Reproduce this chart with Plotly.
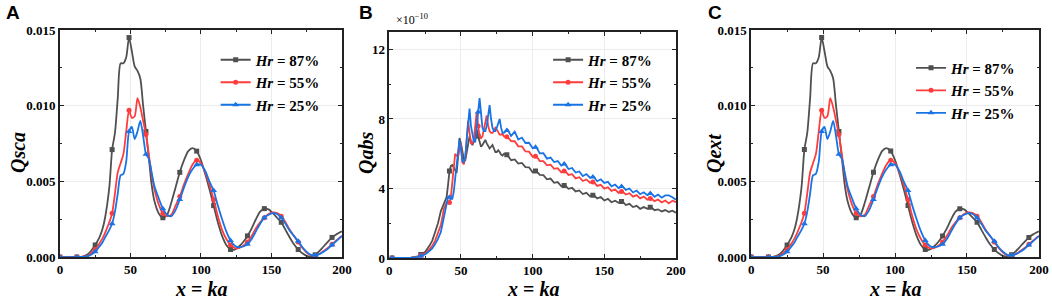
import numpy as np
import plotly.graph_objects as go

# ---------------- Panel A / C data (Qsca, Qext) in units of 1e-3 ----------------
xa = [0, 5, 10, 12, 15, 18, 20, 22, 25, 28, 30, 32, 35, 37, 39, 41, 43, 45, 47, 49, 51, 53, 55, 57, 59,
      61, 63, 65, 67, 70, 73, 76, 79, 82, 85, 88, 91, 94, 97, 100, 103, 106, 109, 112, 115, 118, 121,
      124, 127, 130, 133, 136, 139, 142, 145, 148, 151, 154, 157, 160, 163, 166, 169, 172, 175, 178,
      181, 184, 187, 190, 193, 196, 200]
qsca_87 = [0, 0, 0, 0, 0.02, 0.1, 0.2, 0.4, 0.8, 1.3, 1.8, 2.6, 4.6, 7.1, 8.2, 10.5, 12.8, 12.8, 13.2, 14.5,
           13.6, 12.6, 12.3, 11.8, 10.0, 8.3, 6.6, 4.8, 3.7, 2.9, 2.6, 2.8, 3.6, 4.6, 5.6, 6.4, 7.0, 7.2,
           7.0, 6.4, 5.5, 4.5, 3.4, 2.3, 1.4, 0.8, 0.5, 0.5, 0.7, 1.0, 1.4, 1.9, 2.5, 3.0, 3.2, 3.15, 2.9,
           2.6, 2.3, 1.8, 1.3, 0.85, 0.5, 0.25, 0.08, 0.03, 0.15, 0.4, 0.7, 1.0, 1.3, 1.5, 1.7]
qsca_55 = [0, 0, 0, 0, 0.01, 0.05, 0.1, 0.25, 0.5, 0.9, 1.2, 1.6, 2.3, 2.9, 4.2, 5.6, 6.2, 6.8, 8.3, 9.7,
           9.2, 9.3, 10.5, 9.9, 9.0, 8.1, 6.8, 5.5, 4.5, 3.5, 2.9, 2.7, 2.8, 3.4, 4.0, 4.8, 5.5, 6.1, 6.4,
           6.2, 5.6, 4.8, 3.8, 2.7, 1.8, 1.2, 0.8, 0.6, 0.6, 0.75, 1.0, 1.4, 1.9, 2.3, 2.6, 2.85, 2.95,
           2.9, 2.7, 2.3, 1.8, 1.4, 1.0, 0.6, 0.3, 0.12, 0.08, 0.2, 0.4, 0.6, 0.85, 1.1, 1.4]
qsca_25 = [0, 0, 0, 0, 0.01, 0.03, 0.07, 0.15, 0.35, 0.7, 0.95, 1.3, 1.8, 2.2, 3.0, 4.2, 5.4, 5.5, 6.3, 8.3,
           8.6, 7.8, 8.3, 9.0, 8.0, 6.8, 6.5, 5.6, 4.7, 3.9, 3.2, 2.8, 2.7, 3.1, 3.8, 4.6, 5.3, 5.8, 6.1,
           6.1, 5.7, 5.0, 4.4, 3.4, 2.5, 1.7, 1.1, 0.75, 0.65, 0.7, 0.85, 1.2, 1.7, 2.2, 2.6, 2.8, 2.9,
           2.85, 2.6, 2.2, 1.75, 1.4, 1.05, 0.65, 0.35, 0.15, 0.12, 0.2, 0.35, 0.55, 0.8, 1.05, 1.4]
qext_87, qext_55, qext_25 = qsca_87, qsca_55, qsca_25
marker_xa = [0, 12, 25, 37, 49, 61, 73, 85, 97, 109, 121, 133, 145, 157, 169, 181, 193]

# ---------------- Panel B data (Qabs) in units of 1e-10 ----------------
xb = ([0, 2, 5, 10, 15, 20, 22, 25, 28, 30, 32, 34] + list(range(36, 81))
      + [82.5 + 2.5 * i for i in range(48)])
qabs_87 = ([0, 0, 0, 0, 0.02, 0.1, 0.2, 0.35, 0.7, 1.0, 1.5, 2.0,
            2.7, 2.9, 3.1, 3.2, 3.5, 4.2, 5.0, 5.3, 5.35, 5.2, 5.0, 4.9, 5.8, 6.9, 6.6, 6.0, 5.7, 5.6,
            6.0, 6.6, 7.0, 6.7, 6.5, 6.7, 7.1, 7.4, 7.0, 6.6, 6.4, 6.5, 6.7, 6.8, 6.6, 6.4, 6.3, 6.4,
            6.5, 6.3, 6.1, 6.1, 6.2, 6.1, 5.95, 5.9, 6.0]
           + [5.92, 5.63, 5.67, 5.43, 5.47, 5.23, 5.22, 4.93, 5.02, 4.78, 4.77, 4.53, 4.57, 4.33, 4.37,
              4.13, 4.19, 3.98, 4.04, 3.83, 3.89, 3.68, 3.75, 3.55, 3.63, 3.43, 3.51, 3.31, 3.4, 3.21,
              3.3, 3.18, 3.27, 3.05, 3.12, 2.93, 3.0, 2.83, 2.93, 2.83, 2.94, 2.75, 2.8, 2.68, 2.76,
              2.65, 2.72, 2.6])
qabs_55 = ([0, 0, 0, 0, 0.01, 0.08, 0.15, 0.25, 0.5, 0.7, 1.0, 1.4,
            1.9, 2.3, 2.8, 3.0, 3.2, 3.2, 3.2, 3.5, 4.2, 5.2, 6.0, 5.9, 5.8, 6.3, 6.6, 5.5, 5.4, 5.7,
            6.8, 7.9, 7.2, 6.6, 6.6, 6.8, 7.6, 8.4, 7.6, 7.0, 6.9, 7.0, 7.4, 7.9, 8.2, 7.6, 7.3, 7.2,
            7.2, 7.3, 7.5, 7.4, 7.2, 7.1, 7.1, 7.15, 7.0]
           + [6.97, 6.73, 6.72, 6.43, 6.42, 6.13, 6.12, 5.83, 5.87, 5.58, 5.57, 5.33, 5.37, 5.13, 5.17,
              4.93, 5.02, 4.78, 4.82, 4.58, 4.65, 4.43, 4.52, 4.33, 4.39, 4.15, 4.21, 3.99, 4.07, 3.86,
              3.94, 3.75, 3.85, 3.65, 3.73, 3.53, 3.62, 3.43, 3.53, 3.35, 3.45, 3.27, 3.37, 3.2, 3.31,
              3.14, 3.3, 3.22])
qabs_25 = ([0, 0, 0, 0, 0.01, 0.06, 0.12, 0.2, 0.4, 0.55, 0.8, 1.1,
            1.5, 1.9, 2.4, 2.9, 3.3, 3.5, 3.5, 3.4, 3.4, 3.8, 4.6, 5.4, 6.1, 6.8, 6.3, 5.6, 5.5, 5.8,
            6.8, 8.0, 8.6, 7.6, 7.0, 6.7, 6.7, 7.4, 8.4, 9.2, 8.2, 7.5, 7.3, 7.3, 7.6, 8.2, 8.8, 8.0,
            7.5, 7.3, 7.3, 7.5, 7.8, 8.0, 7.5, 7.2, 7.2]
           + [7.38, 7.03, 7.27, 6.82, 6.93, 6.62, 6.63, 6.32, 6.38, 6.02, 6.03, 5.72, 5.78, 5.52, 5.58,
              5.32, 5.43, 5.12, 5.18, 4.92, 4.98, 4.72, 4.83, 4.62, 4.68, 4.42, 4.53, 4.32, 4.38, 4.12,
              4.23, 4.02, 4.13, 3.92, 4.0, 3.77, 3.88, 3.67, 3.78, 3.62, 3.73, 3.52, 3.65, 3.47, 3.6,
              3.6, 3.5, 3.35])
marker_xb = [2, 22, 42, 62, 82, 102, 122, 142, 162, 182]

series_names = ["<b><i>Hr</i> = 87%</b>", "<b><i>Hr</i> = 55%</b>", "<b><i>Hr</i> = 25%</b>"]
colors = ["#505050", "#ff3c3c", "#1874e6"]
symbols = ["square", "circle", "triangle-up"]
msizes = [5, 5, 6]

for arr in (qsca_87, qsca_55, qsca_25):
    assert len(arr) == len(xa)
for arr in (qabs_87, qabs_55, qabs_25):
    assert len(arr) == len(xb)

fig = go.Figure()

panels = [
    ("x", "y", "legend", xa, [np.array(qsca_87) * 1e-3, np.array(qsca_55) * 1e-3, np.array(qsca_25) * 1e-3], marker_xa, True),
    ("x2", "y2", "legend2", xb, [np.array(qabs_87), np.array(qabs_55), np.array(qabs_25)], marker_xb, False),
    ("x3", "y3", "legend3", xa, [np.array(qext_87) * 1e-3, np.array(qext_55) * 1e-3, np.array(qext_25) * 1e-3], marker_xa, True),
]

for xr, yr, lg, xs, ys, mx, smooth in panels:
    for i in range(3):
        line = dict(color=colors[i], width=1.8)
        if smooth:
            line.update(shape="spline", smoothing=0.7)
        fig.add_trace(go.Scatter(x=xs, y=ys[i], mode="lines", line=line, xaxis=xr, yaxis=yr,
                                 showlegend=False, hoverinfo="skip"))
        fig.add_trace(go.Scatter(x=mx, y=np.interp(mx, xs, ys[i]), mode="markers",
                                 marker=dict(symbol=symbols[i], size=msizes[i], color=colors[i]),
                                 xaxis=xr, yaxis=yr, showlegend=False, hoverinfo="skip"))
        fig.add_trace(go.Scatter(x=[None], y=[None], mode="lines+markers", name=series_names[i],
                                 line=dict(color=colors[i], width=1.8),
                                 marker=dict(symbol=symbols[i], size=msizes[i], color=colors[i]),
                                 xaxis=xr, yaxis=yr, legend=lg, showlegend=True))

tickfont = dict(family="Liberation Serif", size=13, color="black", weight="bold")
common_axis = dict(showline=True, linecolor="#222", linewidth=1.5, mirror="allticks",
                   ticks="inside", ticklen=4, tickwidth=1.2, tickcolor="#222",
                   showgrid=True, gridcolor="#ececec", gridwidth=1, zeroline=False,
                   tickfont=tickfont, automargin=False)

domains_x = [(0.057, 0.325), (0.370, 0.6426), (0.714, 0.9876)]
ydom = [0.143, 0.9]

xaxis_common = dict(common_axis, range=[0, 200], tickvals=[0, 50, 100, 150, 200],
                    minor=dict(ticks="inside", ticklen=2.5, tickvals=[25, 75, 125, 175], tickcolor="#222", showgrid=False))
fig.update_layout(
    width=1052, height=300, margin=dict(l=0, r=0, t=0, b=0, autoexpand=False),
    paper_bgcolor="white", plot_bgcolor="white",
    xaxis=dict(xaxis_common, domain=domains_x[0], anchor="y"),
    xaxis2=dict(xaxis_common, domain=domains_x[1], anchor="y2"),
    xaxis3=dict(xaxis_common, domain=domains_x[2], anchor="y3"),
    yaxis=dict(common_axis, domain=ydom, anchor="x", range=[0, 0.015], tickvals=[0, 0.005, 0.01, 0.015],
               tickformat=".3f", minor=dict(ticks="inside", ticklen=2.5, tickvals=[0.0025, 0.0075, 0.0125], tickcolor="#222", showgrid=False)),
    yaxis2=dict(common_axis, domain=[0.14, 0.893], anchor="x2", range=[0, 13], tickvals=[0, 4, 8, 12],
                minor=dict(ticks="inside", ticklen=2.5, tickvals=[2, 6, 10], tickcolor="#222", showgrid=False)),
    yaxis3=dict(common_axis, domain=ydom, anchor="x3", range=[0, 0.015], tickvals=[0, 0.005, 0.01, 0.015],
                tickformat=".3f", minor=dict(ticks="inside", ticklen=2.5, tickvals=[0.0025, 0.0075, 0.0125], tickcolor="#222", showgrid=False)),
)

legend_font = dict(family="Liberation Serif", size=15, color="black")
leg_common = dict(font=legend_font, bgcolor="rgba(0,0,0,0)", xanchor="left", yanchor="top",
                  tracegroupgap=0, itemwidth=30)
fig.update_layout(
    legend=dict(leg_common, x=0.205, y=0.855),
    legend2=dict(leg_common, x=0.521, y=0.855),
    legend3=dict(leg_common, x=0.866, y=0.828),
)

anns = []
title_font = dict(family="Liberation Serif", size=20, color="black")
# y-axis titles
for xpx, txt in [(18, "Qsca"), (366, "Qabs"), (714, "Qext")]:
    anns.append(dict(text=f"<b><i>{txt}</i></b>", x=xpx / 1052, y=0.49, xref="paper", yref="paper",
                     textangle=-90, showarrow=False, font=title_font, xanchor="center", yanchor="middle"))
# x-axis titles
for d in domains_x:
    anns.append(dict(text="<b><i>x</i> = <i>ka</i></b>", x=(d[0] + d[1]) / 2, y=1 - 289 / 300,
                     xref="paper", yref="paper", showarrow=False, font=title_font,
                     xanchor="center", yanchor="middle"))
# panel letters
for xpx, letter in [(4, "A"), (357, "B"), (706, "C")]:
    anns.append(dict(text=f"<b>{letter}</b>", x=xpx / 1052, y=1 - 12 / 300, xref="paper", yref="paper",
                     showarrow=False, font=dict(family="Liberation Sans", size=19, color="black"),
                     xanchor="left", yanchor="middle"))
# exponent label panel B
anns.append(dict(text="×10<sup>−10</sup>", x=394 / 1052, y=1 - 20 / 300, xref="paper", yref="paper",
                 showarrow=False, font=dict(family="Liberation Serif", size=12, color="black"),
                 xanchor="left", yanchor="middle"))
fig.update_layout(annotations=anns)

fig.write_html("out.html", config={"displayModeBar": False},
               post_script="document.body.style.margin='0';document.body.style.padding='0';document.body.style.overflow='hidden';")
